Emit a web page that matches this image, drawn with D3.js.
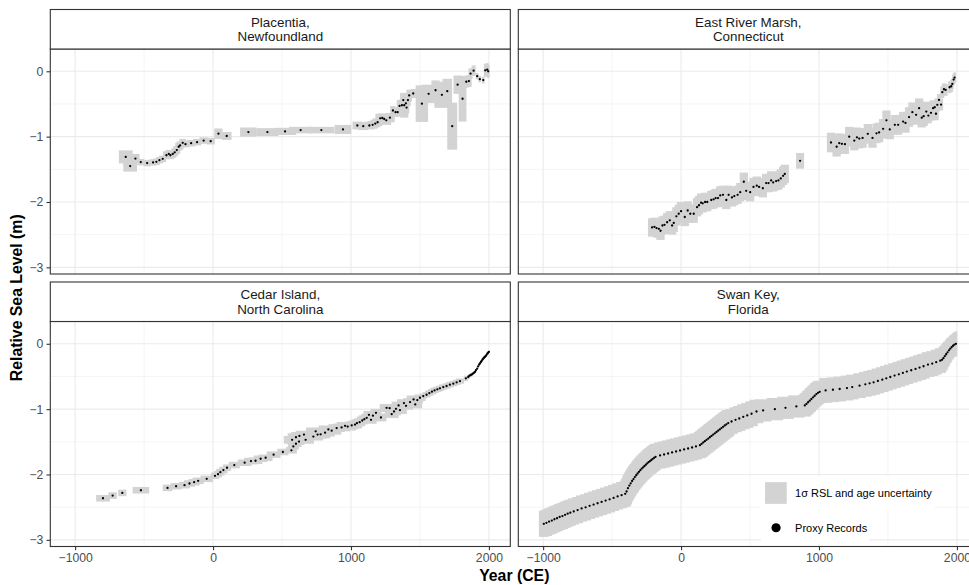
<!DOCTYPE html>
<html>
<head>
<meta charset="utf-8">
<script src="https://cdn.jsdelivr.net/npm/d3@7"></script>
<style>
  html, body { margin: 0; padding: 0; background: #ffffff; }
  svg { display: block; font-family: "Liberation Sans", Arial, Helvetica, sans-serif; }
</style>
</head>
<body>
<svg id="chart" width="969" height="585"></svg>
<script>
// Relative sea-level proxy records: [year CE, RSL (m), 1σ age (yr), 1σ RSL (m)]
const placentia = [
  [-633,-1.31,50,0.10],[-601,-1.45,50,0.085],[-563,-1.335,30,0.07],[-524,-1.39,25,0.05],
  [-478,-1.405,25,0.05],[-435,-1.395,25,0.05],[-411,-1.385,25,0.05],[-389,-1.36,25,0.05],
  [-365,-1.34,25,0.05],[-338,-1.285,25,0.06],[-321,-1.265,25,0.06],[-309,-1.285,25,0.06],
  [-292,-1.265,25,0.06],[-278,-1.24,25,0.06],[-263,-1.205,25,0.06],[-249,-1.155,25,0.06],
  [-239,-1.135,25,0.06],[-220,-1.095,25,0.06],[-200,-1.115,30,0.05],[-159,-1.10,30,0.05],
  [-116,-1.085,30,0.05],[-68,-1.06,30,0.05],[-17,-1.07,30,0.05],[39,-0.955,30,0.08],
  [99,-0.99,35,0.06],[256,-0.93,60,0.07],[394,-0.93,80,0.06],[522,-0.92,80,0.055],
  [635,-0.90,85,0.05],[785,-0.90,95,0.05],[942,-0.89,60,0.07],[1046,-0.83,35,0.06],
  [1089,-0.84,35,0.06],[1133,-0.83,35,0.06],[1157,-0.82,35,0.06],[1176,-0.80,35,0.06],
  [1193,-0.78,35,0.06],[1212,-0.72,35,0.07],[1227,-0.715,35,0.07],[1241,-0.73,35,0.07],
  [1256,-0.75,35,0.07],[1282,-0.71,35,0.07],[1304,-0.60,20,0.07],[1323,-0.625,20,0.07],
  [1338,-0.625,20,0.07],[1352,-0.53,20,0.09],[1369,-0.52,20,0.09],[1379,-0.44,20,0.09],
  [1386,-0.52,30,0.19],[1398,-0.49,20,0.09],[1403,-0.555,20,0.09],[1413,-0.44,20,0.09],
  [1422,-0.37,20,0.09],[1451,-0.34,20,0.07],[1514,-0.495,45,0.28],[1563,-0.345,50,0.14],
  [1613,-0.29,30,0.15],[1659,-0.36,55,0.20],[1698,-0.305,35,0.19],[1734,-0.84,36,0.36],
  [1773,-0.205,30,0.14],[1809,-0.42,28,0.35],[1836,-0.16,20,0.09],[1855,-0.15,20,0.09],
  [1867,-0.035,15,0.08],[1889,0.01,15,0.08],[1915,-0.075,10,0.05],[1934,-0.12,10,0.05],
  [1959,-0.135,10,0.05],[1973,0.015,10,0.10],[1988,0.025,10,0.10],[1995,0.0,10,0.10]
];

const eastRiver = [
  [-210,-2.39,30,0.14],[-193,-2.38,30,0.14],[-178,-2.40,30,0.14],[-161,-2.41,30,0.14],
  [-149,-2.44,30,0.14],[-135,-2.36,30,0.14],[-120,-2.35,30,0.14],[-101,-2.31,30,0.14],
  [-82,-2.28,30,0.14],[-65,-2.36,30,0.14],[-53,-2.32,30,0.14],[-34,-2.22,30,0.14],
  [-17,-2.18,30,0.14],[0,-2.14,30,0.14],[27,-2.23,30,0.14],[48,-2.13,30,0.14],
  [67,-2.18,30,0.14],[92,-2.18,30,0.14],[116,-2.08,30,0.14],[130,-2.05,30,0.14],
  [145,-2.01,30,0.14],[157,-2.02,30,0.14],[174,-2.00,30,0.14],[190,-2.00,30,0.14],
  [219,-1.97,30,0.14],[236,-1.96,30,0.14],[251,-1.94,30,0.14],[268,-1.94,30,0.14],
  [284,-1.90,30,0.14],[304,-1.89,30,0.14],[328,-1.97,30,0.14],[345,-1.89,30,0.14],
  [369,-1.93,30,0.14],[386,-1.91,30,0.14],[410,-1.89,30,0.14],[429,-1.85,30,0.14],
  [455,-1.69,30,0.14],[472,-1.83,30,0.14],[501,-1.85,30,0.14],[525,-1.77,30,0.14],
  [549,-1.75,30,0.14],[566,-1.77,30,0.14],[593,-1.79,30,0.14],[617,-1.71,30,0.14],
  [634,-1.71,30,0.14],[653,-1.67,30,0.14],[668,-1.70,30,0.14],[689,-1.68,30,0.14],
  [706,-1.67,30,0.14],[723,-1.64,30,0.14],[740,-1.60,30,0.14],[752,-1.57,30,0.14],
  [863,-1.37,29,0.12],
  [1087,-1.09,30,0.15],[1128,-1.155,30,0.15],[1147,-1.10,30,0.15],[1166,-1.11,30,0.15],
  [1188,-1.115,30,0.15],[1219,-1.00,30,0.15],[1256,-1.06,30,0.15],[1275,-1.01,30,0.15],
  [1292,-1.03,30,0.15],[1316,-1.02,30,0.15],[1354,-0.957,30,0.15],[1388,-1.02,30,0.15],
  [1417,-0.95,30,0.15],[1436,-0.936,30,0.15],[1465,-0.88,30,0.15],[1489,-0.75,30,0.15],
  [1513,-0.89,30,0.15],[1550,-0.82,30,0.15],[1574,-0.82,30,0.15],[1610,-0.77,30,0.15],
  [1627,-0.79,30,0.15],[1653,-0.70,30,0.15],[1677,-0.626,30,0.15],[1704,-0.667,30,0.15],
  [1726,-0.565,30,0.15],[1745,-0.71,30,0.15],[1759,-0.687,30,0.15],[1778,-0.616,30,0.15],
  [1793,-0.677,25,0.12],[1812,-0.636,25,0.12],[1827,-0.565,25,0.12],[1839,-0.55,20,0.10],
  [1848,-0.65,20,0.10],[1858,-0.514,20,0.10],[1870,-0.438,15,0.09],[1885,-0.509,15,0.09],
  [1894,-0.32,15,0.09],[1906,-0.275,15,0.09],[1918,-0.285,15,0.09],[1947,-0.244,12,0.09],
  [1959,-0.229,12,0.09],[1967,-0.193,10,0.08],[1976,-0.127,10,0.08],[1983,-0.097,10,0.08]
];

const cedarIsland = [
  [-798,-2.364,50,0.05],[-728,-2.323,30,0.05],[-658,-2.282,30,0.05],[-523,-2.241,60,0.05],
  [-330,-2.205,35,0.05],[-268,-2.18,40,0.05],[-207,-2.164,40,0.05],[-171,-2.138,40,0.05],
  [-137,-2.118,40,0.05],[-108,-2.097,40,0.05],[-46,-2.067,45,0.05],[14,-2.02,30,0.05],
  [36,-1.995,30,0.05],[53,-1.964,30,0.05],[75,-1.933,30,0.05],[101,-1.897,30,0.05],
  [154,-1.856,40,0.05],[229,-1.82,50,0.05],[275,-1.795,50,0.05],[308,-1.79,50,0.05],
  [345,-1.759,50,0.05],[381,-1.744,50,0.05],[439,-1.697,50,0.05],[506,-1.656,40,0.05],
  [568,-1.63,40,0.05],[582,-1.57,40,0.05],[601,-1.53,40,0.05],[623,-1.497,40,0.05],
  [573,-1.47,60,0.06],[601,-1.43,60,0.06],[626,-1.41,60,0.06],[659,-1.39,60,0.06],
  [671,-1.47,60,0.06],[727,-1.42,70,0.06],[744,-1.34,70,0.06],[758,-1.39,70,0.06],
  [780,-1.385,70,0.06],[812,-1.36,70,0.06],[836,-1.31,70,0.06],[860,-1.33,70,0.06],
  [896,-1.29,60,0.06],[932,-1.28,60,0.06],[957,-1.256,60,0.06],[976,-1.267,60,0.06],
  [1005,-1.25,50,0.06],[1029,-1.236,50,0.06],[1043,-1.215,40,0.06],[1063,-1.20,40,0.06],
  [1082,-1.174,40,0.06],[1097,-1.154,40,0.06],[1114,-1.133,40,0.06],[1130,-1.087,40,0.06],
  [1145,-1.164,40,0.06],[1159,-1.10,40,0.06],[1181,-1.056,40,0.06],[1217,-1.128,40,0.06],
  [1258,-0.98,50,0.06],[1280,-0.985,50,0.06],[1295,-1.077,50,0.06],[1312,-1.036,50,0.06],
  [1326,-0.995,50,0.06],[1345,-0.944,50,0.06],[1355,-1.015,50,0.06],[1384,-0.908,50,0.06],
  [1399,-0.949,50,0.06],[1428,-0.892,50,0.06],[1454,-0.851,50,0.06],[1466,-0.928,50,0.06],
  [1481,-0.862,40,0.05],[1500,-0.826,40,0.05],[1524,-0.80,30,0.04],[1548,-0.78,30,0.04],
  [1568,-0.754,30,0.04],[1587,-0.733,30,0.04],[1606,-0.713,30,0.04],[1626,-0.697,30,0.04],
  [1645,-0.682,30,0.04],[1669,-0.662,30,0.04],[1693,-0.646,30,0.04],[1717,-0.626,30,0.04],
  [1742,-0.61,30,0.04],[1766,-0.59,30,0.04],[1790,-0.57,30,0.04],[1833,-0.528,15,0.04],
  [1850,-0.508,10,0.03],[1858,-0.49,8,0.03],[1866,-0.481,8,0.03],[1874,-0.472,8,0.03],
  [1882,-0.46,6,0.02],[1890,-0.447,6,0.02],[1899,-0.43,6,0.02],[1906,-0.405,5,0.02],
  [1915,-0.38,5,0.02],[1922,-0.345,5,0.02],[1929,-0.318,5,0.02],[1935,-0.30,5,0.02],
  [1942,-0.278,5,0.02],[1948,-0.26,5,0.02],[1954,-0.24,5,0.02],[1960,-0.225,5,0.02],
  [1966,-0.21,5,0.02],[1972,-0.197,5,0.02],[1978,-0.185,5,0.02],[1984,-0.165,5,0.02],
  [1990,-0.148,5,0.02],[1995,-0.135,5,0.02],[2000,-0.123,5,0.02]
];

const swanKey = [
  [-995,-2.755,36,0.20],[-976,-2.74,40,0.20],[-957,-2.72,40,0.20],[-937,-2.705,40,0.20],
  [-918,-2.685,40,0.20],[-899,-2.67,40,0.20],[-880,-2.65,40,0.20],[-860,-2.636,40,0.20],
  [-841,-2.617,40,0.20],[-822,-2.60,40,0.20],[-803,-2.585,40,0.20],[-778,-2.565,40,0.20],
  [-750,-2.545,40,0.20],[-721,-2.52,40,0.20],[-692,-2.503,40,0.20],[-663,-2.48,40,0.20],
  [-634,-2.46,40,0.20],[-605,-2.44,40,0.20],[-576,-2.42,40,0.20],[-547,-2.40,40,0.20],
  [-518,-2.38,40,0.20],[-489,-2.358,40,0.20],[-460,-2.336,40,0.20],[-431,-2.316,40,0.20],
  [-405,-2.296,40,0.20],[-395,-2.26,40,0.20],[-385,-2.21,40,0.20],[-375,-2.17,40,0.20],
  [-365,-2.135,40,0.20],[-355,-2.10,40,0.20],[-345,-2.07,40,0.20],[-335,-2.04,40,0.20],
  [-325,-2.012,40,0.20],[-315,-1.985,40,0.20],[-305,-1.96,40,0.20],[-295,-1.934,40,0.20],
  [-285,-1.91,40,0.20],[-275,-1.89,40,0.20],[-265,-1.87,40,0.20],[-255,-1.85,40,0.20],
  [-245,-1.83,40,0.20],[-235,-1.81,40,0.20],[-225,-1.795,40,0.20],[-215,-1.778,40,0.20],
  [-205,-1.76,40,0.20],[-195,-1.745,40,0.20],[-185,-1.73,40,0.20],[-152,-1.709,45,0.20],
  [-123,-1.694,45,0.20],[-94,-1.679,45,0.20],[-65,-1.663,45,0.20],[-36,-1.648,45,0.20],
  [-7,-1.633,45,0.20],[22,-1.617,45,0.20],[51,-1.602,45,0.20],[80,-1.587,45,0.20],
  [108,-1.571,45,0.20],[137,-1.551,45,0.20],[149,-1.531,45,0.20],[161,-1.51,45,0.20],
  [173,-1.49,45,0.20],[185,-1.47,45,0.20],[197,-1.45,45,0.20],[209,-1.43,45,0.20],
  [221,-1.41,45,0.20],[233,-1.39,45,0.20],[245,-1.37,45,0.20],[257,-1.35,45,0.20],
  [269,-1.33,45,0.20],[281,-1.31,45,0.20],[293,-1.29,45,0.20],[305,-1.27,45,0.20],
  [317,-1.25,45,0.20],[329,-1.232,45,0.20],[342,-1.214,45,0.20],[366,-1.189,45,0.19],
  [395,-1.163,45,0.19],[422,-1.143,45,0.19],[451,-1.117,45,0.19],[480,-1.097,45,0.19],
  [511,-1.071,45,0.19],[547,-1.036,50,0.18],[595,-1.02,60,0.17],[680,-1.0,60,0.17],
  [757,-0.98,60,0.17],[836,-0.959,60,0.17],[897,-0.944,45,0.17],[909,-0.92,45,0.17],
  [921,-0.895,45,0.17],[933,-0.87,45,0.17],[945,-0.845,45,0.17],[957,-0.82,45,0.17],
  [969,-0.795,45,0.17],[981,-0.77,45,0.17],[993,-0.75,45,0.17],[1005,-0.735,45,0.17],
  [1048,-0.713,45,0.19],[1101,-0.703,45,0.19],[1150,-0.692,45,0.19],[1203,-0.677,45,0.19],
  [1241,-0.662,45,0.19],[1294,-0.641,45,0.19],[1336,-0.62,45,0.19],[1367,-0.605,45,0.19],
  [1396,-0.59,45,0.19],[1427,-0.569,45,0.19],[1459,-0.549,45,0.19],[1488,-0.528,45,0.19],
  [1517,-0.508,45,0.19],[1548,-0.487,45,0.19],[1579,-0.467,45,0.19],[1608,-0.446,45,0.19],
  [1637,-0.426,45,0.19],[1669,-0.405,45,0.19],[1700,-0.385,45,0.19],[1729,-0.364,45,0.19],
  [1758,-0.344,45,0.19],[1790,-0.318,45,0.19],[1821,-0.303,45,0.19],[1850,-0.282,40,0.19],
  [1879,-0.258,40,0.19],[1892,-0.245,30,0.19],[1902,-0.22,30,0.19],[1912,-0.19,25,0.19],
  [1922,-0.16,25,0.19],[1932,-0.13,20,0.19],[1942,-0.10,20,0.19],[1952,-0.075,15,0.19],
  [1962,-0.05,15,0.19],[1972,-0.03,10,0.19],[1982,-0.012,10,0.19],[1993,0.0,10,0.19]
];

const siteNames = [
  ["Placentia,", "Newfoundland"],
  ["East River Marsh,", "Connecticut"],
  ["Cedar Island,", "North Carolina"],
  ["Swan Key,", "Florida"]
];
const siteData = [placentia, eastRiver, cedarIsland, swanKey];

const xMajor = [-1000, 0, 1000, 2000];
const xMinor = [-500, 500, 1500];
const yMajor = [0, -1, -2, -3];
const yMinor = [-0.5, -1.5, -2.5];

const legendLabels = ["1\u03c3 RSL and age uncertainty", "Proxy Records"];
const xTitle = "Year (CE)";
const yTitle = "Relative Sea Level (m)";

// ---- layout ----
const svg = d3.select("#chart");
const panelW = 460, panelH = 225, stripH = 39.5;
const colLeft = [50.3, 518.3];
const rowTop = [9.5, 282];           // top of each strip
const boxFill = "#d3d3d3";
const gridCol = "#ebebeb";
const frameCol = "#333333";

const fmt = d3.format("d");

const xScales = colLeft.map(l => d3.scaleLinear().domain([-1180, 2155]).range([l, l + panelW]));
const yScales = rowTop.map(t => d3.scaleLinear().domain([-3.102, 0.341]).range([t + stripH + panelH, t + stripH]));

const defs = svg.append("defs");

siteData.forEach((data, i) => {
  const col = i % 2, row = Math.floor(i / 2);
  const x = xScales[col], y = yScales[row];
  const px0 = colLeft[col], py0 = rowTop[row] + stripH;
  const g = svg.append("g");

  defs.append("clipPath").attr("id", "clip" + i)
    .append("rect").attr("x", px0).attr("y", py0).attr("width", panelW).attr("height", panelH);

  const body = g.append("g").attr("clip-path", `url(#clip${i})`);
  body.append("rect").attr("x", px0).attr("y", py0).attr("width", panelW).attr("height", panelH).attr("fill", "#fff");

  // grid lines
  body.selectAll(".vminor").data(xMinor).join("line")
    .attr("x1", d => x(d)).attr("x2", d => x(d)).attr("y1", py0).attr("y2", py0 + panelH)
    .attr("stroke", gridCol).attr("stroke-width", 0.55);
  body.selectAll(".hminor").data(yMinor).join("line")
    .attr("x1", px0).attr("x2", px0 + panelW).attr("y1", d => y(d)).attr("y2", d => y(d))
    .attr("stroke", gridCol).attr("stroke-width", 0.55);
  body.selectAll(".vmajor").data(xMajor).join("line")
    .attr("x1", d => x(d)).attr("x2", d => x(d)).attr("y1", py0).attr("y2", py0 + panelH)
    .attr("stroke", gridCol).attr("stroke-width", 1.1);
  body.selectAll(".hmajor").data(yMajor).join("line")
    .attr("x1", px0).attr("x2", px0 + panelW).attr("y1", d => y(d)).attr("y2", d => y(d))
    .attr("stroke", gridCol).attr("stroke-width", 1.1);

  // uncertainty boxes
  body.append("g").selectAll("rect").data(data).join("rect")
    .attr("x", d => x(d[0] - d[2])).attr("width", d => x(d[0] + d[2]) - x(d[0] - d[2]))
    .attr("y", d => y(d[1] + d[3])).attr("height", d => y(d[1] - d[3]) - y(d[1] + d[3]))
    .attr("fill", boxFill);

  // proxy points
  body.append("g").selectAll("circle").data(data).join("circle")
    .attr("cx", d => x(d[0])).attr("cy", d => y(d[1])).attr("r", 1.15).attr("fill", "#000");

  // panel frame
  g.append("rect").attr("x", px0).attr("y", py0).attr("width", panelW).attr("height", panelH)
    .attr("fill", "none").attr("stroke", frameCol).attr("stroke-width", 1.1);

  // strip
  g.append("rect").attr("x", px0).attr("y", rowTop[row]).attr("width", panelW).attr("height", stripH)
    .attr("fill", "#fff").attr("stroke", frameCol).attr("stroke-width", 1.1);
  g.append("text").attr("x", px0 + panelW / 2).attr("y", rowTop[row] + 17.3)
    .attr("text-anchor", "middle").attr("font-size", 13.4).attr("fill", "#1a1a1a").text(siteNames[i][0]);
  g.append("text").attr("x", px0 + panelW / 2).attr("y", rowTop[row] + 31.6)
    .attr("text-anchor", "middle").attr("font-size", 13.4).attr("fill", "#1a1a1a").text(siteNames[i][1]);

  // axes
  if (col === 0) {
    const ax = g.append("g").attr("transform", `translate(${px0},0)`)
      .call(d3.axisLeft(y).tickValues(yMajor).tickFormat(fmt).tickSize(3.8).tickPadding(3.2));
    ax.select(".domain").remove();
    ax.selectAll(".tick line").attr("stroke", frameCol).attr("stroke-width", 1.1);
    ax.selectAll(".tick text").attr("fill", "#4d4d4d").attr("font-size", 12.2)
      .attr("font-family", "'Liberation Sans', Arial, sans-serif");
  }
  if (row === 1) {
    const ax = g.append("g").attr("transform", `translate(0,${py0 + panelH})`)
      .call(d3.axisBottom(x).tickValues(xMajor).tickFormat(fmt).tickSize(3.8).tickPadding(3.2));
    ax.select(".domain").remove();
    ax.selectAll(".tick line").attr("stroke", frameCol).attr("stroke-width", 1.1);
    ax.selectAll(".tick text").attr("fill", "#4d4d4d").attr("font-size", 12.2)
      .attr("font-family", "'Liberation Sans', Arial, sans-serif");
  }

  // legend inside the Swan Key panel
  if (i === 3) {
    const lx = x(580), ly1 = y(-2.03);
    const lg = g.append("g");
    lg.append("rect").attr("x", lx).attr("y", ly1).attr("width", 173).attr("height", 33).attr("fill", "#fff");
    lg.append("rect").attr("x", lx + 4).attr("y", ly1 + 5.7).attr("width", 21.7).attr("height", 21.7).attr("fill", boxFill);
    lg.append("text").attr("x", lx + 34).attr("y", ly1 + 16.5).attr("dy", "0.35em")
      .attr("font-size", 11).attr("fill", "#000").text(legendLabels[0]);
    const ly2 = ly1 + 34.5;
    lg.append("rect").attr("x", lx).attr("y", ly2).attr("width", 108).attr("height", 33).attr("fill", "#fff");
    lg.append("circle").attr("cx", lx + 15).attr("cy", ly2 + 16.8).attr("r", 4.6).attr("fill", "#000");
    lg.append("text").attr("x", lx + 34).attr("y", ly2 + 16.8).attr("dy", "0.35em")
      .attr("font-size", 11).attr("fill", "#000").text(legendLabels[1]);
  }
});

// axis titles
svg.append("text").attr("x", (colLeft[0] + colLeft[1] + panelW) / 2).attr("y", 580.5)
  .attr("text-anchor", "middle").attr("font-size", 15.8).attr("font-weight", "bold").attr("fill", "#000")
  .text(xTitle);
svg.append("text")
  .attr("transform", `translate(21.5,${(rowTop[0] + stripH + rowTop[1] + stripH + panelH) / 2}) rotate(-90)`)
  .attr("text-anchor", "middle").attr("font-size", 15.8).attr("font-weight", "bold").attr("fill", "#000")
  .text(yTitle);
</script>
</body>
</html>
